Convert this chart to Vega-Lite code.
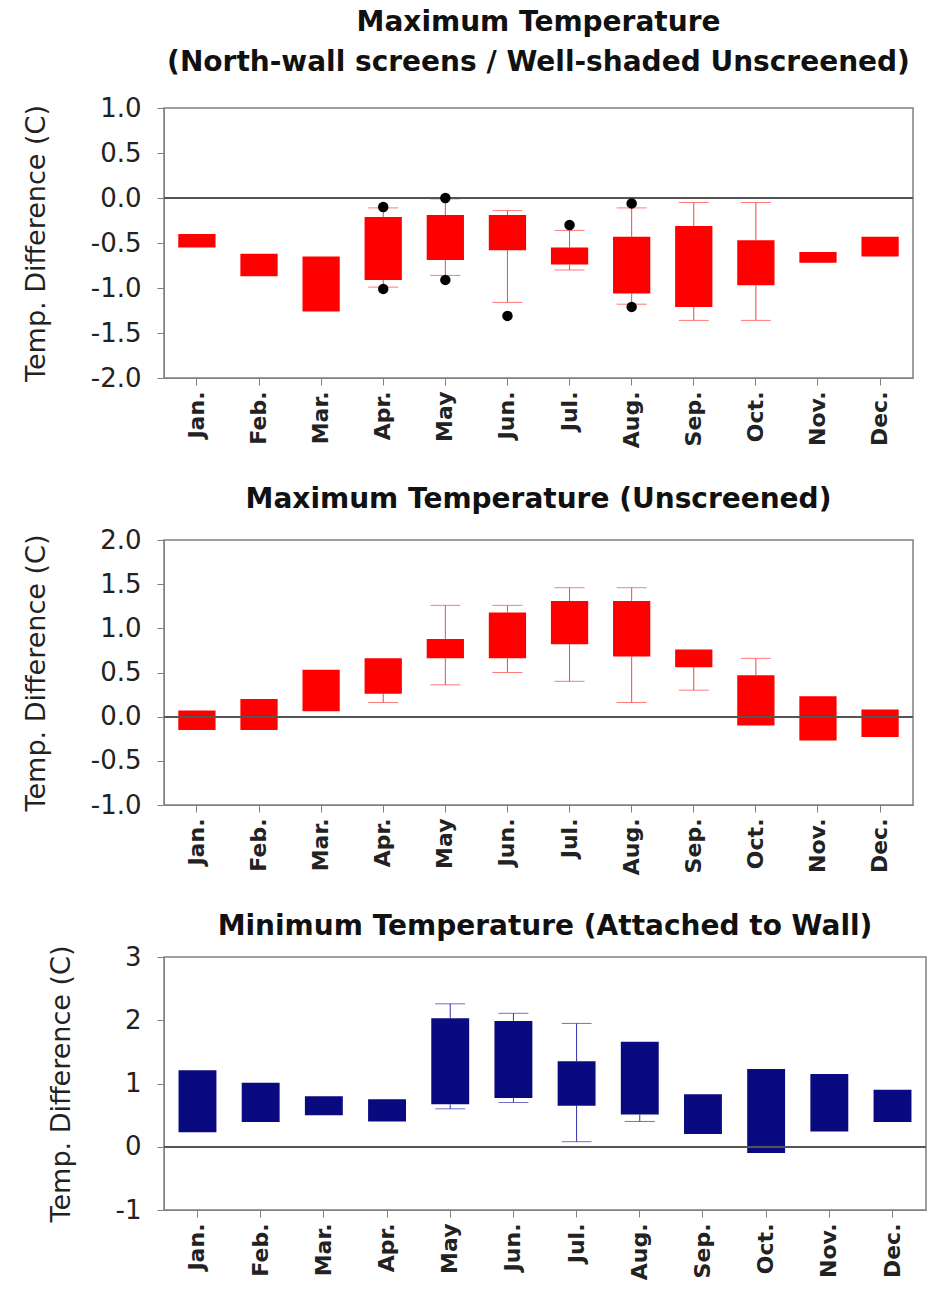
{
  "$schema": "https://vega.github.io/schema/vega-lite/v6.json",
  "background": "white",
  "padding": {"left": 21, "top": 8, "right": 2, "bottom": 5},
  "config": {
    "font": "DejaVu Sans",
    "view": {"stroke": "#808080", "strokeWidth": 1.5},
    "axis": {"grid": false, "domainColor": "#808080", "tickColor": "#808080", "labelColor": "#222222", "titleColor": "#222222", "labelFont": "DejaVu Sans", "titleFont": "DejaVu Sans"},
    "title": {"font": "DejaVu Sans", "fontWeight": "bold", "fontSize": 28, "color": "#111111", "anchor": "middle", "offset": 22},
    "concat": {"spacing": 36}
  },
  "datasets": {
    "p1": [
      {"m": "Jan.", "q1": -0.55, "q3": -0.40},
      {"m": "Feb.", "q1": -0.87, "q3": -0.62},
      {"m": "Mar.", "q1": -1.26, "q3": -0.65},
      {"m": "Apr.", "q1": -0.91, "q3": -0.21, "lo": -0.99, "hi": -0.11},
      {"m": "May", "q1": -0.69, "q3": -0.19, "lo": -0.86, "hi": -0.01},
      {"m": "Jun.", "q1": -0.58, "q3": -0.19, "lo": -1.16, "hi": -0.14},
      {"m": "Jul.", "q1": -0.74, "q3": -0.55, "lo": -0.80, "hi": -0.36},
      {"m": "Aug.", "q1": -1.06, "q3": -0.43, "lo": -1.18, "hi": -0.11},
      {"m": "Sep.", "q1": -1.21, "q3": -0.31, "lo": -1.36, "hi": -0.05},
      {"m": "Oct.", "q1": -0.97, "q3": -0.47, "lo": -1.36, "hi": -0.05},
      {"m": "Nov.", "q1": -0.72, "q3": -0.60},
      {"m": "Dec.", "q1": -0.65, "q3": -0.43}
    ],
    "o1": [
      {"m": "Apr.", "v": -0.10},
      {"m": "Apr.", "v": -1.01},
      {"m": "May", "v": 0.0},
      {"m": "May", "v": -0.91},
      {"m": "Jun.", "v": -1.31},
      {"m": "Jul.", "v": -0.30},
      {"m": "Aug.", "v": -0.06},
      {"m": "Aug.", "v": -1.21}
    ],
    "p2": [
      {"m": "Jan.", "q1": -0.15, "q3": 0.07},
      {"m": "Feb.", "q1": -0.15, "q3": 0.20},
      {"m": "Mar.", "q1": 0.06, "q3": 0.53},
      {"m": "Apr.", "q1": 0.26, "q3": 0.66, "lo": 0.16},
      {"m": "May", "q1": 0.66, "q3": 0.88, "lo": 0.36, "hi": 1.26},
      {"m": "Jun.", "q1": 0.66, "q3": 1.18, "lo": 0.50, "hi": 1.26},
      {"m": "Jul.", "q1": 0.82, "q3": 1.31, "lo": 0.40, "hi": 1.46},
      {"m": "Aug.", "q1": 0.68, "q3": 1.31, "lo": 0.16, "hi": 1.46},
      {"m": "Sep.", "q1": 0.56, "q3": 0.76, "lo": 0.30},
      {"m": "Oct.", "q1": -0.10, "q3": 0.47, "hi": 0.66},
      {"m": "Nov.", "q1": -0.27, "q3": 0.23},
      {"m": "Dec.", "q1": -0.23, "q3": 0.08}
    ],
    "p3": [
      {"m": "Jan.", "q1": 0.23, "q3": 1.21},
      {"m": "Feb.", "q1": 0.39, "q3": 1.01},
      {"m": "Mar.", "q1": 0.50, "q3": 0.80},
      {"m": "Apr.", "q1": 0.40, "q3": 0.75},
      {"m": "May", "q1": 0.67, "q3": 2.03, "lo": 0.60, "hi": 2.26},
      {"m": "Jun.", "q1": 0.77, "q3": 1.99, "lo": 0.70, "hi": 2.11},
      {"m": "Jul.", "q1": 0.65, "q3": 1.35, "lo": 0.08, "hi": 1.95},
      {"m": "Aug.", "q1": 0.51, "q3": 1.66, "lo": 0.40},
      {"m": "Sep.", "q1": 0.20, "q3": 0.83},
      {"m": "Oct.", "q1": -0.10, "q3": 1.23},
      {"m": "Nov.", "q1": 0.24, "q3": 1.15},
      {"m": "Dec.", "q1": 0.39, "q3": 0.90}
    ]
  },
  "vconcat": [
    {
      "width": 749, "height": 270,
      "title": {"text": ["Maximum Temperature", "(North-wall screens / Well-shaded Unscreened)"], "lineHeight": 40, "offset": 18},
      "data": {"name": "p1"},
      "layer": [
        {
          "transform": [{"filter": "isValid(datum.lo)"}],
          "mark": {"type": "rule", "color": "#ff4040", "strokeWidth": 1},
          "encoding": {
            "x": {"field": "m", "type": "nominal", "scale": {"domain": ["Jan.", "Feb.", "Mar.", "Apr.", "May", "Jun.", "Jul.", "Aug.", "Sep.", "Oct.", "Nov.", "Dec."], "paddingInner": 0, "paddingOuter": 0.03}, "axis": {"title": null, "labelAngle": 270, "labelFontSize": 22, "labelFontWeight": "bold", "labelAlign": "right", "labelBaseline": "middle", "tickSize": 7, "labelPadding": 6}},
            "y": {"field": "lo", "type": "quantitative", "scale": {"domain": [-2, 1], "nice": false, "zero": false}, "axis": {"title": "Temp. Difference (C)", "titleFontSize": 27, "titleFontWeight": "normal", "labelFontSize": 26, "tickSize": 7, "labelPadding": 16, "titlePadding": 40, "values": [-2, -1.5, -1, -0.5, 0, 0.5, 1], "format": ".1f", "labelExpr": "replace(datum.label, '\u2212', '-')"}},
            "y2": {"field": "q1"}
          }
        },
        {
          "transform": [{"filter": "isValid(datum.hi)"}],
          "mark": {"type": "rule", "color": "#ff4040", "strokeWidth": 1},
          "encoding": {"x": {"field": "m", "type": "nominal"}, "y": {"field": "hi", "type": "quantitative"}, "y2": {"field": "q3"}}
        },
        {
          "transform": [{"filter": "isValid(datum.lo)"}],
          "mark": {"type": "tick", "color": "#ff4040", "thickness": 1, "size": 30},
          "encoding": {"x": {"field": "m", "type": "nominal"}, "y": {"field": "lo", "type": "quantitative"}}
        },
        {
          "transform": [{"filter": "isValid(datum.hi)"}],
          "mark": {"type": "tick", "color": "#ff4040", "thickness": 1, "size": 30},
          "encoding": {"x": {"field": "m", "type": "nominal"}, "y": {"field": "hi", "type": "quantitative"}}
        },
        {
          "mark": {"type": "bar", "color": "#ff0000", "width": {"band": 0.6}},
          "encoding": {"x": {"field": "m", "type": "nominal"}, "y": {"field": "q1", "type": "quantitative"}, "y2": {"field": "q3"}}
        },
        {
          "mark": {"type": "rule", "color": "#555555", "strokeWidth": 1.5},
          "encoding": {"y": {"datum": 0, "type": "quantitative"}}
        },
        {
          "data": {"name": "o1"},
          "mark": {"type": "point", "filled": true, "color": "#000000", "size": 110, "opacity": 1},
          "encoding": {"x": {"field": "m", "type": "nominal"}, "y": {"field": "v", "type": "quantitative"}}
        }
      ]
    },
    {
      "width": 749, "height": 265,
      "title": {"text": "Maximum Temperature (Unscreened)", "offset": 13},
      "data": {"name": "p2"},
      "layer": [
        {
          "transform": [{"filter": "isValid(datum.lo)"}],
          "mark": {"type": "rule", "color": "#ff4040", "strokeWidth": 1},
          "encoding": {
            "x": {"field": "m", "type": "nominal", "scale": {"domain": ["Jan.", "Feb.", "Mar.", "Apr.", "May", "Jun.", "Jul.", "Aug.", "Sep.", "Oct.", "Nov.", "Dec."], "paddingInner": 0, "paddingOuter": 0.03}, "axis": {"title": null, "labelAngle": 270, "labelFontSize": 22, "labelFontWeight": "bold", "labelAlign": "right", "labelBaseline": "middle", "tickSize": 7, "labelPadding": 6}},
            "y": {"field": "lo", "type": "quantitative", "scale": {"domain": [-1, 2], "nice": false, "zero": false}, "axis": {"title": "Temp. Difference (C)", "titleFontSize": 27, "titleFontWeight": "normal", "labelFontSize": 26, "tickSize": 7, "labelPadding": 16, "titlePadding": 40, "values": [-1, -0.5, 0, 0.5, 1, 1.5, 2], "format": ".1f", "labelExpr": "replace(datum.label, '\u2212', '-')"}},
            "y2": {"field": "q1"}
          }
        },
        {
          "transform": [{"filter": "isValid(datum.hi)"}],
          "mark": {"type": "rule", "color": "#ff4040", "strokeWidth": 1},
          "encoding": {"x": {"field": "m", "type": "nominal"}, "y": {"field": "hi", "type": "quantitative"}, "y2": {"field": "q3"}}
        },
        {
          "transform": [{"filter": "isValid(datum.lo)"}],
          "mark": {"type": "tick", "color": "#ff4040", "thickness": 1, "size": 30},
          "encoding": {"x": {"field": "m", "type": "nominal"}, "y": {"field": "lo", "type": "quantitative"}}
        },
        {
          "transform": [{"filter": "isValid(datum.hi)"}],
          "mark": {"type": "tick", "color": "#ff4040", "thickness": 1, "size": 30},
          "encoding": {"x": {"field": "m", "type": "nominal"}, "y": {"field": "hi", "type": "quantitative"}}
        },
        {
          "mark": {"type": "bar", "color": "#ff0000", "width": {"band": 0.6}},
          "encoding": {"x": {"field": "m", "type": "nominal"}, "y": {"field": "q1", "type": "quantitative"}, "y2": {"field": "q3"}}
        },
        {
          "mark": {"type": "rule", "color": "#555555", "strokeWidth": 1.5},
          "encoding": {"y": {"datum": 0, "type": "quantitative"}}
        }
      ]
    },
    {
      "width": 762, "height": 253,
      "title": {"text": "Minimum Temperature (Attached to Wall)", "offset": 3},
      "data": {"name": "p3"},
      "layer": [
        {
          "transform": [{"filter": "isValid(datum.lo)"}],
          "mark": {"type": "rule", "color": "#3333aa", "strokeWidth": 1},
          "encoding": {
            "x": {"field": "m", "type": "nominal", "scale": {"domain": ["Jan.", "Feb.", "Mar.", "Apr.", "May", "Jun.", "Jul.", "Aug.", "Sep.", "Oct.", "Nov.", "Dec."], "paddingInner": 0, "paddingOuter": 0.03}, "axis": {"title": null, "labelAngle": 270, "labelFontSize": 22, "labelFontWeight": "bold", "labelAlign": "right", "labelBaseline": "middle", "tickSize": 7, "labelPadding": 6}},
            "y": {"field": "lo", "type": "quantitative", "scale": {"domain": [-1, 3], "nice": false, "zero": false}, "axis": {"title": "Temp. Difference (C)", "titleFontSize": 27, "titleFontWeight": "normal", "labelFontSize": 26, "tickSize": 7, "labelPadding": 16, "titlePadding": 40, "values": [-1, 0, 1, 2, 3], "format": "d", "labelExpr": "replace(datum.label, '\u2212', '-')"}},
            "y2": {"field": "q1"}
          }
        },
        {
          "transform": [{"filter": "isValid(datum.hi)"}],
          "mark": {"type": "rule", "color": "#3333aa", "strokeWidth": 1},
          "encoding": {"x": {"field": "m", "type": "nominal"}, "y": {"field": "hi", "type": "quantitative"}, "y2": {"field": "q3"}}
        },
        {
          "transform": [{"filter": "isValid(datum.lo)"}],
          "mark": {"type": "tick", "color": "#3333aa", "thickness": 1, "size": 30},
          "encoding": {"x": {"field": "m", "type": "nominal"}, "y": {"field": "lo", "type": "quantitative"}}
        },
        {
          "transform": [{"filter": "isValid(datum.hi)"}],
          "mark": {"type": "tick", "color": "#3333aa", "thickness": 1, "size": 30},
          "encoding": {"x": {"field": "m", "type": "nominal"}, "y": {"field": "hi", "type": "quantitative"}}
        },
        {
          "mark": {"type": "bar", "color": "#0a0a80", "width": {"band": 0.6}},
          "encoding": {"x": {"field": "m", "type": "nominal"}, "y": {"field": "q1", "type": "quantitative"}, "y2": {"field": "q3"}}
        },
        {
          "mark": {"type": "rule", "color": "#555555", "strokeWidth": 1.5},
          "encoding": {"y": {"datum": 0, "type": "quantitative"}}
        }
      ]
    }
  ]
}
